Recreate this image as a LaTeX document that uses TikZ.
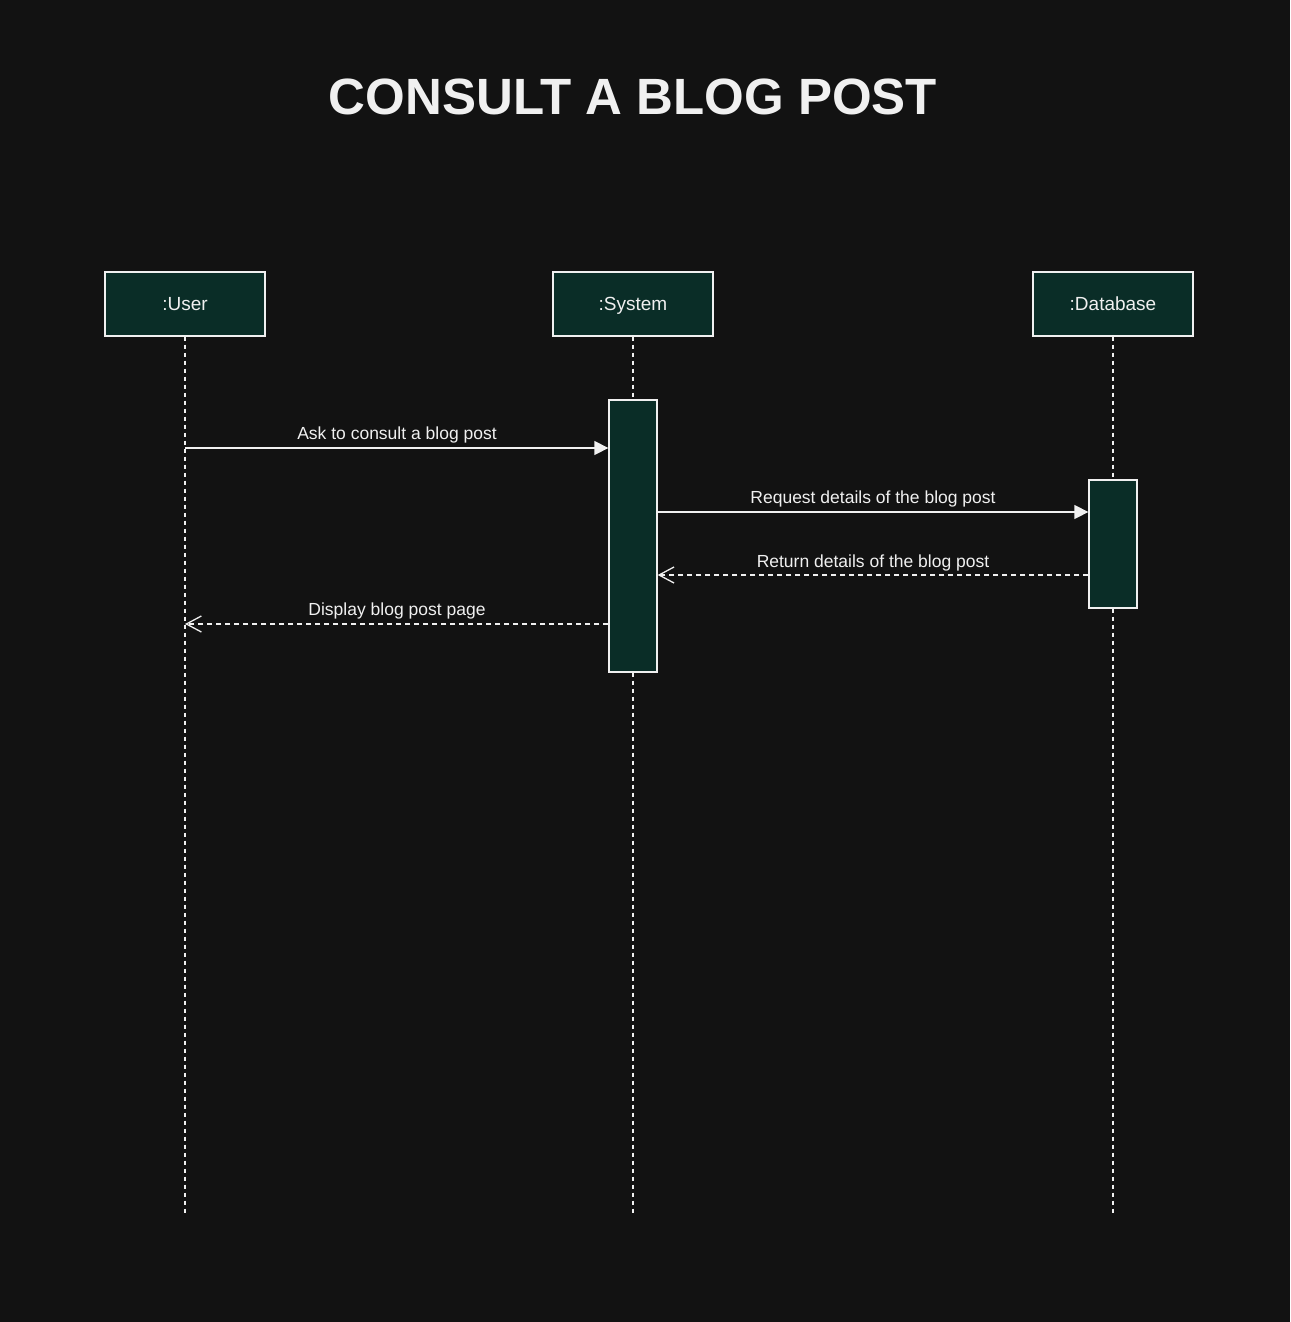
\documentclass[tikz,border=0pt]{standalone}
\usepackage{fontspec}
\setmainfont{Liberation Sans}
\usetikzlibrary{arrows.meta}
\definecolor{bg}{HTML}{121212}
\definecolor{boxfill}{HTML}{0A2D27}
\definecolor{fg}{HTML}{F0F0F0}
\tikzset{
  actor/.style={draw=fg, line width=1.3pt, fill=boxfill, minimum width=160pt, minimum height=64pt, inner sep=0pt, text=fg, font=\fontsize{19}{22}\selectfont},
  actlabel/.style={text=fg, font=\fontsize{19}{22}\selectfont, inner sep=0pt, text height=0.72em, text depth=0.2em, yshift=-4pt},
  actbar/.style={draw=fg, line width=1.3pt, fill=boxfill, minimum width=48pt, inner sep=0pt},
  lifeline/.style={draw=fg, line width=1.2pt, dash pattern=on 4pt off 4pt},
  callmsg/.style={draw=fg, line width=1.3pt, -{Triangle[length=14pt,width=14pt]}},
  retmsg/.style={draw=fg, line width=1.3pt, dash pattern=on 5pt off 4pt, -{Straight Barb[length=15pt,width=16pt,line width=1.3pt]}},
  msglabel/.style={text=fg, font=\fontsize{17.5}{20}\selectfont, inner sep=0pt, text height=0.72em, text depth=0.2em, yshift=-4pt}
}
\begin{document}
\begin{tikzpicture}[x=1pt,y=-1pt]
\fill[bg] (0,0) rectangle (1290,1322);
\useasboundingbox (0,0) rectangle (1290,1322);
\node[text=fg, font=\bfseries\fontsize{51}{60}\selectfont] (title) at (633,97) {CONSULT A BLOG POST};
% lifelines
\coordinate (uend) at (185,1215);
\coordinate (send) at (633,1215);
\coordinate (dend) at (1113,1215);
\node[actor] (user) at (185,304) {};
\node[actor] (sys) at (633,304) {};
\node[actor] (db) at (1113,304) {};
\node[actlabel] (userl) at (user.center) {:User};
\node[actlabel] (sysl) at (sys.center) {:System};
\node[actlabel] (dbl) at (db.center) {:Database};
\draw[lifeline] (user.south) -- (uend);
\draw[lifeline] (sys.south) -- (send);
\draw[lifeline] (db.south) -- (dend);
% activations
\node[actbar, minimum height=272pt] (sysact) at (633,536) {};
\node[actbar, minimum height=128pt] (dbact) at (1113,544) {};
% messages
\coordinate (u1) at (185,448);
\coordinate (u4) at (185,624);
\draw[callmsg] (u1) -- (sysact.west |- u1);
\node[msglabel] (l1) at (397,433) {Ask to consult a blog post};
\coordinate (s2) at (657,512);
\draw[callmsg] (sysact.east |- s2) -- (dbact.west |- s2);
\node[msglabel] (l2) at (873,497) {Request details of the blog post};
\coordinate (d3) at (1089,575);
\draw[retmsg] (dbact.west |- d3) -- (sysact.east |- d3);
\node[msglabel] (l3) at (873,561) {Return details of the blog post};
\draw[retmsg] (sysact.west |- u4) -- (u4);
\node[msglabel] (l4) at (397,609) {Display blog post page};
\end{tikzpicture}
\end{document}
